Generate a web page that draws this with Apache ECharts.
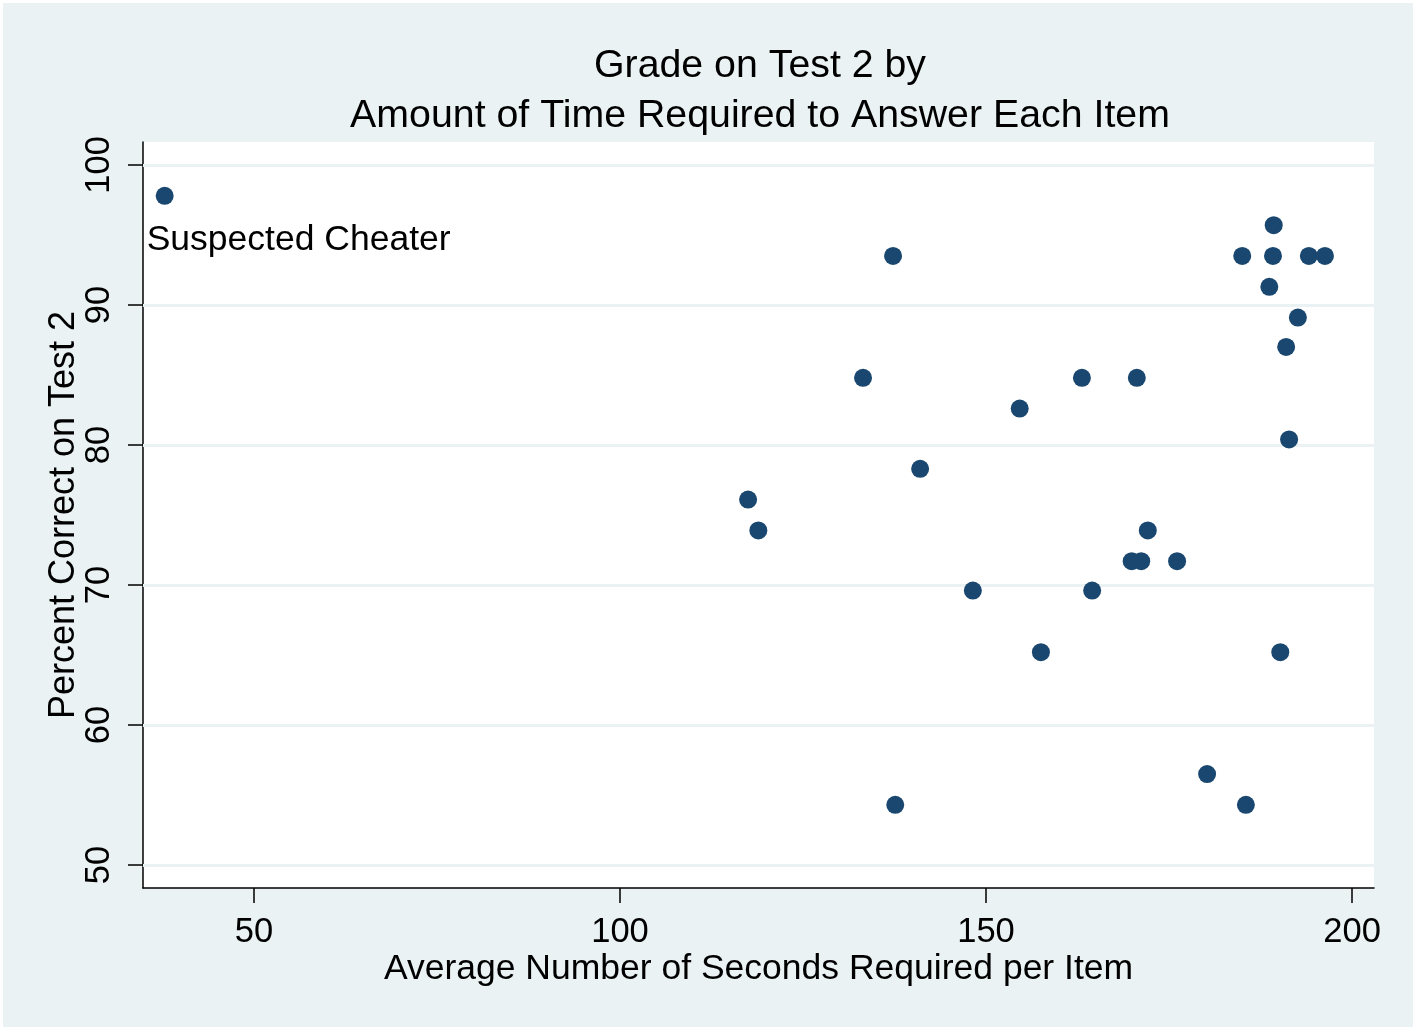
<!DOCTYPE html>
<html><head><meta charset="utf-8">
<script src="https://cdn.jsdelivr.net/npm/echarts@6/dist/echarts.min.js"></script>
<style>html,body{margin:0;padding:0;background:#fff}#c{width:1413px;height:1027px}</style>
</head><body><div id="c"></div>
<script>
const titleLines = ["Grade on Test 2 by", "Amount of Time Required to Answer Each Item"];
const xName = "Average Number of Seconds Required per Item";
const yName = "Percent Correct on Test 2";
const xTicks = [50, 100, 150, 200];
const yTicks = [50, 60, 70, 80, 90, 100];
const cheaterTime = [37.8];
const cheaterGrade = [97.8];
const cheaterLabel = "Suspected Cheater";
const seconds = [117.5, 118.9, 133.2, 137.3, 137.6, 141.0, 148.2, 154.6, 157.5, 163.1, 164.5, 169.9, 170.6, 171.2, 172.1, 176.1, 180.2, 185.0, 185.5, 188.7, 189.2, 189.3, 190.2, 191.0, 191.4, 192.6, 194.1, 196.3];
const grades  = [76.1, 73.9, 84.8, 93.5, 54.3, 78.3, 69.6, 82.6, 65.2, 84.8, 69.6, 71.7, 84.8, 71.7, 73.9, 71.7, 56.5, 93.5, 54.3, 91.3, 93.5, 95.7, 65.2, 87.0, 80.4, 89.1, 93.5, 93.5];

const FONT = "Liberation Sans, Arial, sans-serif";
const MARK = '#1A476F';
const chart = echarts.init(document.getElementById('c'), null, {renderer: 'canvas'});
const pts = seconds.map((s, i) => [s, grades[i]]);
const cheat = cheaterTime.map((s, i) => [s, cheaterGrade[i]]);
chart.setOption({
  backgroundColor: '#fff',
  animation: false,
  graphic: [{type: 'rect', z: -100, shape: {x: 3, y: 3, width: 1410, height: 1024}, style: {fill: '#EAF2F3'}}],
  title: {
    text: titleLines.join('\n'), left: 755, top: 36, textAlign: 'center',
    textStyle: {fontFamily: FONT, fontSize: 39.3, fontWeight: 'normal', color: '#000', lineHeight: 50}
  },
  grid: {left: 143, right: 39, top: 142, bottom: 139, show: true, backgroundColor: '#fff', borderWidth: 0},
  xAxis: {
    type: 'value', min: 34.84, max: 203.0,
    name: xName, nameLocation: 'middle', nameGap: 63, nameMoveOverlap: false,
    nameTextStyle: {fontFamily: FONT, fontSize: 35.5, color: '#000'},
    axisLine: {show: true, lineStyle: {color: '#000', width: 1.5}},
    axisTick: {show: true, length: 15, customValues: xTicks, lineStyle: {color: '#000', width: 1.5}},
    axisLabel: {customValues: xTicks, fontFamily: FONT, fontSize: 34.5, color: '#000', margin: 27},
    splitLine: {show: false}
  },
  yAxis: {
    type: 'value', min: 48.36, max: 101.64,
    name: yName, nameLocation: 'middle', nameGap: 61, nameMoveOverlap: false,
    nameTextStyle: {fontFamily: FONT, fontSize: 36, color: '#000'},
    axisLine: {show: true, lineStyle: {color: '#000', width: 1.5}},
    axisTick: {show: true, length: 15, customValues: yTicks, lineStyle: {color: '#000', width: 1.5}},
    axisLabel: {customValues: yTicks, rotate: 90, fontFamily: FONT, fontSize: 34.5, color: '#000', margin: 26},
    splitLine: {show: false}
  },
  series: [
    {
      type: 'scatter', symbolSize: 18, data: pts, itemStyle: {color: MARK, opacity: 1},
      markLine: {
        silent: true, symbol: 'none', z: 1, label: {show: false},
        lineStyle: {color: '#EAF2F3', width: 3, type: 'solid'},
        data: yTicks.map(v => ({yAxis: v}))
      }
    },
    {
      type: 'scatter', symbolSize: 18, data: cheat, itemStyle: {color: MARK, opacity: 1},
      label: {show: true, formatter: cheaterLabel, position: [-9, 35], align: 'left', verticalAlign: 'top',
        fontFamily: FONT, fontSize: 35.5, color: '#000'}
    }
  ]
});
</script></body></html>
